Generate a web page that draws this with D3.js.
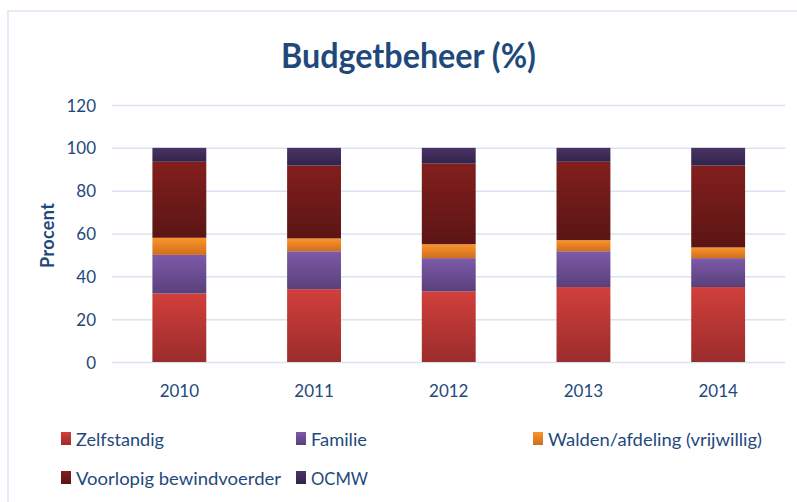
<!DOCTYPE html>
<html>
<head>
<meta charset="utf-8">
<script src="https://cdn.jsdelivr.net/npm/d3@7"></script>
<style>
  body { margin: 0; background: #fff; }
  text { font-family: Lato, "Open Sans", sans-serif; fill: #1f497d; }
</style>
</head>
<body>
<svg id="chart" width="797" height="502"></svg>
<script>
const years = ['2010', '2011', '2012', '2013', '2014'];
const seriesNames = ['Zelfstandig', 'Familie', 'Walden/afdeling (vrijwillig)', 'Voorlopig bewindvoerder', 'OCMW'];
const zelfstandig = [32, 34, 33, 35, 35];
const familie = [18, 17.7, 15.5, 16.7, 13.5];
const walden = [8, 6, 6.5, 5.2, 5];
const voorlopig = [35.5, 34, 37.6, 36.6, 38.2];
const ocmw = [6.5, 8.3, 7.4, 6.5, 8.3];
const yTicks = [0, 20, 40, 60, 80, 100, 120];
const gradients = [
  ['#d13f3b', '#9b2c2c'],
  ['#7d5aa9', '#59407b'],
  ['#fb952a', '#cf6e1e'],
  ['#821f1e', '#5b1514'],
  ['#4a3366', '#32244a']
];

const startApp = () => {
  const svg = d3.select('#chart');
  const margin = { top: 105, left: 112, right: 12 };
  const plotBottom = 362;

  // frame
  svg.append('rect')
    .attr('x', 8).attr('y', 11)
    .attr('width', 800).attr('height', 500)
    .attr('fill', 'none')
    .attr('stroke', '#dce6f2')
    .attr('stroke-width', 1.5);

  const table = years.map((y, i) => ({
    year: y,
    [seriesNames[0]]: zelfstandig[i],
    [seriesNames[1]]: familie[i],
    [seriesNames[2]]: walden[i],
    [seriesNames[3]]: voorlopig[i],
    [seriesNames[4]]: ocmw[i]
  }));
  const stacked = d3.stack().keys(seriesNames)(table);

  const x = d3.scaleBand()
    .domain(years)
    .range([margin.left, 797 - margin.right + 0.5])
    .paddingInner(0.6)
    .paddingOuter(0.3);

  const y = d3.scaleLinear()
    .domain([0, 120])
    .range([plotBottom, margin.top]);

  const defs = svg.append('defs');
  gradients.forEach((g, i) => {
    const lg = defs.append('linearGradient')
      .attr('id', 'grad' + i)
      .attr('x1', 0).attr('y1', 0).attr('x2', 0).attr('y2', 1);
    lg.append('stop').attr('offset', '0%').attr('stop-color', g[0]);
    lg.append('stop').attr('offset', '100%').attr('stop-color', g[1]);
  });

  // gridlines
  svg.append('g')
    .attr('transform', `translate(${margin.left},0)`)
    .call(d3.axisLeft(y).tickValues(yTicks).tickSize(-(x.range()[1] - margin.left)).tickFormat(''))
    .call(g => g.select('.domain').remove())
    .call(g => g.selectAll('line').attr('stroke', '#d9e3f1').attr('stroke-width', 1.5));

  // y labels
  svg.append('g')
    .attr('transform', 'translate(96,0)')
    .call(d3.axisLeft(y).tickValues(yTicks).tickSize(0).tickPadding(0))
    .call(g => g.select('.domain').remove())
    .call(g => g.selectAll('text').attr('font-size', 17).attr('fill', '#1f497d')
      .attr('font-family', 'Lato, sans-serif').attr('dy', '0.36em'));

  // x labels
  svg.append('g')
    .attr('transform', `translate(0,${plotBottom})`)
    .call(d3.axisBottom(x).tickSize(0).tickPadding(23))
    .call(g => g.select('.domain').remove())
    .call(g => g.selectAll('text').attr('font-size', 17).attr('fill', '#1f497d')
      .attr('font-family', 'Lato, sans-serif'));

  // bars
  svg.append('g')
    .selectAll('g')
    .data(stacked)
    .enter()
    .append('g')
    .attr('fill', (d, i) => `url(#grad${i})`)
    .selectAll('rect')
    .data(d => d)
    .enter()
    .append('rect')
    .attr('x', d => x(d.data.year))
    .attr('y', d => y(d[1]))
    .attr('width', x.bandwidth())
    .attr('height', d => y(d[0]) - y(d[1]));

  // title
  svg.append('text')
    .attr('x', 408.5).attr('y', 68)
    .attr('text-anchor', 'middle')
    .attr('font-size', 34)
    .attr('font-weight', 'bold')
    .attr('textLength', 255)
    .attr('lengthAdjust', 'spacingAndGlyphs')
    .text('Budgetbeheer (%)');

  // y title
  svg.append('text')
    .attr('transform', 'translate(54,235.5) rotate(-90)')
    .attr('text-anchor', 'middle')
    .attr('font-size', 18)
    .attr('font-weight', 'bold')
    .attr('textLength', 65)
    .text('Procent');

  // legend
  const legendPos = [[61, 440], [296, 440], [533, 440], [61, 479], [296, 479]];
  const legendWidths = [88, 56, 214, 205, 57];
  const legend = svg.append('g')
    .selectAll('g')
    .data(seriesNames)
    .enter()
    .append('g')
    .attr('transform', (d, i) => `translate(${legendPos[i][0]},${legendPos[i][1]})`);
  legend.append('rect')
    .attr('x', 0).attr('y', -8)
    .attr('width', 10).attr('height', 13)
    .attr('fill', (d, i) => `url(#grad${i})`);
  legend.append('text')
    .attr('x', 15).attr('y', 0)
    .attr('dy', '0.36em')
    .attr('font-size', 18)
    .attr('textLength', (d, i) => legendWidths[i])
    .attr('lengthAdjust', 'spacingAndGlyphs')
    .text(d => d);
};

window.onload = startApp;
</script>
</body>
</html>
